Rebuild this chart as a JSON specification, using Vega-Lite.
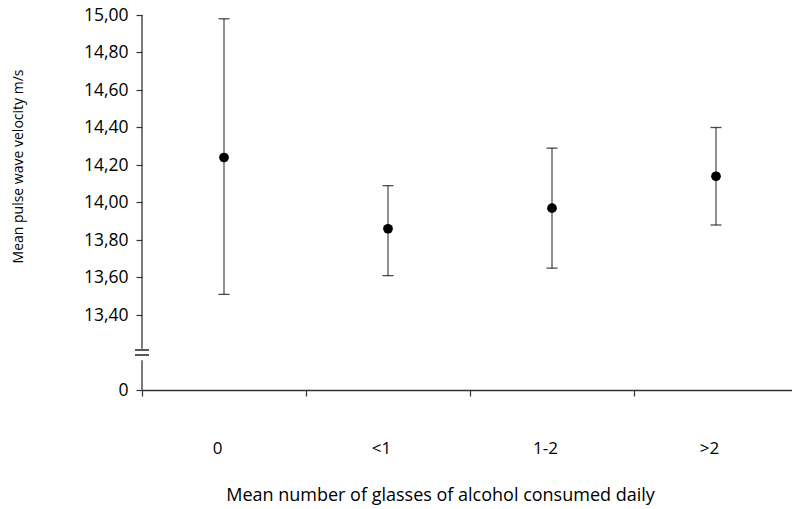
{
  "$schema": "https://vega.github.io/schema/vega-lite/v6.json",
  "autosize": {"type": "none"},
  "width": 650,
  "height": 375,
  "padding": {"left": 142, "top": 15, "right": 0, "bottom": 119},
  "background": "white",
  "config": {
    "view": {"stroke": null},
    "font": "Open Sans",
    "axis": {"labelFont": "Open Sans", "titleFont": "Open Sans", "labelColor": "black", "titleColor": "black", "titleFontWeight": "normal"}
  },
  "datasets": {
    "main": [
      {"cat": "0", "mean": 14.24, "lo": 13.51, "hi": 14.98},
      {"cat": "<1", "mean": 13.86, "lo": 13.61, "hi": 14.09},
      {"cat": "1-2", "mean": 13.97, "lo": 13.65, "hi": 14.29},
      {"cat": ">2", "mean": 14.14, "lo": 13.88, "hi": 14.40}
    ],
    "axisseg": [
      {"cat": "0", "lo": 13.22, "hi": 15},
      {"cat": "0", "lo": 0, "hi": 10.5}
    ],
    "brk": [
      {"cat": "0", "v": 13.2}
    ]
  },
  "layer": [
    {
      "data": {"name": "main"},
      "mark": {"type": "rule", "color": "#555555", "strokeWidth": 1.3},
      "encoding": {
        "x": {
          "field": "cat", "type": "nominal",
          "scale": {"domain": ["0", "<1", "1-2", ">2"], "range": [0, 656], "paddingInner": 0, "paddingOuter": 0},
          "axis": {
            "title": "Mean number of glasses of alcohol consumed daily",
            "labelAngle": 0,
            "tickBand": "extent",
            "domainColor": "#333333",
            "domainWidth": 1.3,
            "tickColor": "#333333",
            "tickWidth": 1.2,
            "tickSize": 6,
            "labelFontSize": 17,
            "labelPadding": 52,
            "labelBaseline": "middle",
            "labelOffset": -7,
            "titleFontSize": 18,
            "titleX": 298,
            "titleY": 105,
            "titleBaseline": "middle",
            "titleAlign": "center",
            "grid": false
          }
        },
        "y": {
          "field": "lo", "type": "quantitative",
          "scale": {"type": "linear", "domain": [0, 13.2, 15], "range": [375, 337.5, 0], "zero": false, "nice": false},
          "axis": {
            "title": "Mean pulse wave velocity m/s",
            "values": [0, 13.4, 13.6, 13.8, 14.0, 14.2, 14.4, 14.6, 14.8, 15.0],
            "labelExpr": "datum.value == 0 ? '0' : replace(format(datum.value, '.2f'), '.', ',')",
            "domain": false,
            "grid": false,
            "tickColor": "#333333",
            "tickWidth": 1.2,
            "tickSize": 6,
            "labelPadding": 8,
            "labelFontSize": 17.5,
            "labelBaseline": "middle",
            "titleFontSize": 14,
            "titleAngle": 270,
            "titleX": -124,
            "titleY": 151,
            "titleAlign": "center",
            "titleBaseline": "middle"
          }
        },
        "y2": {"field": "hi"}
      }
    },
    {
      "data": {"name": "main"},
      "mark": {"type": "tick", "orient": "horizontal", "color": "black", "size": 11, "thickness": 1.3},
      "encoding": {
        "x": {"field": "cat", "type": "nominal"},
        "y": {"field": "lo", "type": "quantitative"}
      }
    },
    {
      "data": {"name": "main"},
      "mark": {"type": "tick", "orient": "horizontal", "color": "black", "size": 11, "thickness": 1.3},
      "encoding": {
        "x": {"field": "cat", "type": "nominal"},
        "y": {"field": "hi", "type": "quantitative"}
      }
    },
    {
      "data": {"name": "main"},
      "mark": {"type": "point", "shape": "circle", "filled": true, "color": "black", "size": 95, "opacity": 1},
      "encoding": {
        "x": {"field": "cat", "type": "nominal"},
        "y": {"field": "mean", "type": "quantitative"}
      }
    },
    {
      "data": {"name": "axisseg"},
      "mark": {"type": "rule", "color": "#333333", "strokeWidth": 1.3},
      "encoding": {
        "x": {"field": "cat", "type": "nominal", "bandPosition": 0},
        "y": {"field": "lo", "type": "quantitative"},
        "y2": {"field": "hi"}
      }
    },
    {
      "data": {"name": "brk"},
      "mark": {"type": "point", "shape": "M-1,-0.35L1,-0.35M-1,0.35L1,0.35", "filled": false, "stroke": "#222222", "strokeWidth": 1.4, "size": 196, "opacity": 1},
      "encoding": {
        "x": {"field": "cat", "type": "nominal", "bandPosition": 0},
        "y": {"field": "v", "type": "quantitative"}
      }
    }
  ]
}
